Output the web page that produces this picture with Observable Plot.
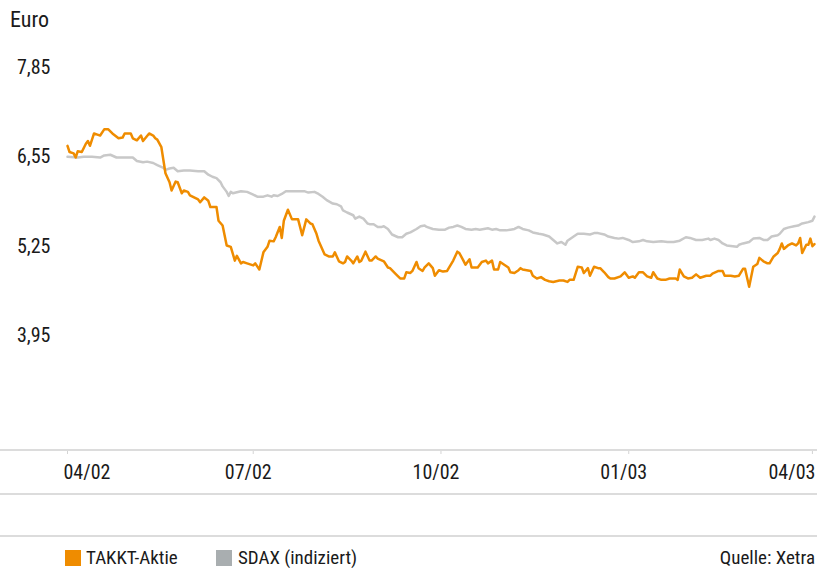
<!DOCTYPE html>
<html>
<head>
<meta charset="utf-8">
<script src="https://cdn.jsdelivr.net/npm/d3@7"></script>
<script src="https://cdn.jsdelivr.net/npm/@observablehq/plot@0.6"></script>
<style>
  body { margin: 0; background: #fff; }
  #wrap { position: relative; width: 817px; height: 568px; font-family: "Liberation Sans Narrow", "Roboto Condensed", "DejaVu Sans Condensed", "Liberation Sans", sans-serif; color: #1a1a1a; overflow: hidden; }
  .hline { position: absolute; left: 0; width: 817px; height: 2px; background: #dcdcdc; }
  .unit { position: absolute; left: 10px; top: 8px; font-size: 22px; line-height: 24px; }
  .legend { position: absolute; top: 547px; left: 0; width: 817px; height: 22px; font-size: 19px; line-height: 22px; }
  .legend span.sw { position: absolute; top: 3px; width: 16px; height: 16px; }
  .legend span.tx { position: absolute; top: 0; white-space: nowrap; }
</style>
</head>
<body>
<div id="wrap">
  <div id="chart"></div>
  <div class="unit">Euro</div>
  <div class="hline" style="top:449px"></div>
  <div class="hline" style="top:493px"></div>
  <div class="hline" style="top:535px"></div>
  <div class="legend" id="legend"></div>
</div>
<script>
// Y-axis tick values (Euro)
const yTicks = [3.95, 5.25, 6.55, 7.85];
// X-axis tick dates
const xTickDates = ["2002-04-01", "2002-07-01", "2002-10-01", "2003-01-01", "2003-04-01"];
// Legend / source labels
const seriesNames = ["TAKKT-Aktie", "SDAX (indiziert)"];
const sourceText = "Quelle: Xetra";

// TAKKT share price (Euro)
const takkt = [
  ["2002-04-01",6.71],["2002-04-02",6.62],["2002-04-04",6.60],["2002-04-05",6.54],["2002-04-06",6.63],
  ["2002-04-08",6.62],["2002-04-10",6.74],["2002-04-11",6.78],["2002-04-12",6.71],["2002-04-14",6.89],
  ["2002-04-16",6.87],["2002-04-17",6.86],["2002-04-19",6.95],["2002-04-21",6.95],["2002-04-23",6.89],
  ["2002-04-26",6.82],["2002-04-28",6.83],["2002-04-29",6.89],["2002-05-02",6.89],["2002-05-03",6.82],
  ["2002-05-05",6.79],["2002-05-07",6.86],["2002-05-08",6.78],["2002-05-11",6.89],["2002-05-13",6.86],
  ["2002-05-14",6.82],["2002-05-15",6.80],["2002-05-17",6.69],["2002-05-18",6.50],["2002-05-19",6.31],
  ["2002-05-21",6.18],["2002-05-22",6.06],["2002-05-24",6.19],["2002-05-25",6.18],["2002-05-27",6.02],
  ["2002-05-28",6.06],["2002-05-30",6.04],["2002-05-31",5.99],["2002-06-02",5.96],["2002-06-04",5.93],
  ["2002-06-05",5.89],["2002-06-07",5.96],["2002-06-09",5.91],["2002-06-10",5.82],["2002-06-13",5.82],
  ["2002-06-14",5.62],["2002-06-16",5.55],["2002-06-18",5.26],["2002-06-20",5.24],["2002-06-22",5.04],
  ["2002-06-23",5.11],["2002-06-25",5.00],["2002-06-26",5.02],["2002-06-28",5.00],["2002-07-01",4.97],
  ["2002-07-02",5.00],["2002-07-04",4.91],["2002-07-06",5.16],["2002-07-08",5.24],["2002-07-09",5.33],
  ["2002-07-11",5.32],["2002-07-12",5.38],["2002-07-14",5.53],["2002-07-15",5.37],["2002-07-16",5.62],
  ["2002-07-18",5.78],["2002-07-20",5.64],["2002-07-23",5.64],["2002-07-25",5.41],["2002-07-27",5.64],
  ["2002-07-29",5.58],["2002-07-30",5.57],["2002-08-01",5.43],["2002-08-02",5.33],["2002-08-05",5.13],
  ["2002-08-07",5.10],["2002-08-09",5.10],["2002-08-10",5.16],["2002-08-12",5.03],["2002-08-14",5.00],
  ["2002-08-15",5.02],["2002-08-16",5.10],["2002-08-18",5.04],["2002-08-19",5.00],["2002-08-21",5.10],
  ["2002-08-22",5.02],["2002-08-23",5.04],["2002-08-25",5.17],["2002-08-27",5.04],["2002-08-28",5.04],
  ["2002-08-30",5.10],["2002-08-31",5.07],["2002-09-03",5.03],["2002-09-05",4.94],["2002-09-06",4.93],
  ["2002-09-09",4.84],["2002-09-11",4.78],["2002-09-13",4.78],["2002-09-14",4.87],["2002-09-16",4.86],
  ["2002-09-17",4.89],["2002-09-19",5.02],["2002-09-20",4.93],["2002-09-22",4.89],["2002-09-23",4.94],
  ["2002-09-25",5.00],["2002-09-27",4.93],["2002-09-28",4.82],["2002-09-30",4.90],["2002-10-02",4.88],
  ["2002-10-04",4.89],["2002-10-07",5.04],["2002-10-09",5.17],["2002-10-10",5.15],["2002-10-12",5.04],
  ["2002-10-13",4.98],["2002-10-15",5.06],["2002-10-16",4.94],["2002-10-19",4.94],["2002-10-21",5.02],
  ["2002-10-23",5.04],["2002-10-24",5.00],["2002-10-26",5.04],["2002-10-27",4.91],["2002-10-29",4.91],
  ["2002-10-30",5.02],["2002-11-01",4.98],["2002-11-03",4.94],["2002-11-04",4.87],["2002-11-06",4.86],
  ["2002-11-08",4.90],["2002-11-09",4.93],["2002-11-10",4.91],["2002-11-12",4.90],["2002-11-14",4.89],
  ["2002-11-15",4.82],["2002-11-17",4.78],["2002-11-19",4.80],["2002-11-21",4.76],["2002-11-23",4.74],
  ["2002-11-25",4.73],["2002-11-28",4.75],["2002-11-30",4.75],["2002-12-02",4.73],["2002-12-03",4.76],
  ["2002-12-05",4.76],["2002-12-07",4.95],["2002-12-09",4.94],["2002-12-10",4.86],["2002-12-12",4.93],
  ["2002-12-13",4.82],["2002-12-15",4.95],["2002-12-17",4.93],["2002-12-18",4.93],["2002-12-20",4.87],
  ["2002-12-22",4.80],["2002-12-23",4.78],["2002-12-25",4.78],["2002-12-28",4.81],["2002-12-30",4.87],
  ["2003-01-01",4.79],["2003-01-03",4.81],["2003-01-04",4.79],["2003-01-06",4.87],["2003-01-08",4.87],
  ["2003-01-10",4.81],["2003-01-12",4.79],["2003-01-13",4.87],["2003-01-15",4.78],["2003-01-17",4.76],
  ["2003-01-19",4.76],["2003-01-21",4.78],["2003-01-24",4.78],["2003-01-25",4.76],["2003-01-26",4.91],
  ["2003-01-28",4.81],["2003-01-30",4.78],["2003-02-01",4.79],["2003-02-03",4.84],["2003-02-05",4.79],
  ["2003-02-08",4.82],["2003-02-10",4.82],["2003-02-11",4.85],["2003-02-14",4.89],["2003-02-16",4.89],
  ["2003-02-17",4.82],["2003-02-20",4.82],["2003-02-22",4.81],["2003-02-24",4.82],["2003-02-26",4.92],
  ["2003-02-27",4.92],["2003-03-01",4.66],["2003-03-03",4.95],["2003-03-05",4.99],["2003-03-06",5.08],
  ["2003-03-08",5.03],["2003-03-10",5.00],["2003-03-11",5.00],["2003-03-13",5.10],["2003-03-15",5.15],
  ["2003-03-16",5.21],["2003-03-17",5.29],["2003-03-18",5.21],["2003-03-20",5.26],["2003-03-22",5.29],
  ["2003-03-24",5.26],["2003-03-25",5.29],["2003-03-26",5.37],["2003-03-27",5.15],["2003-03-29",5.27],
  ["2003-03-30",5.27],["2003-03-31",5.36],["2003-04-01",5.25],["2003-04-02",5.28]
];

// SDAX, indexed to the TAKKT price (Euro)
const sdax = [
  ["2002-04-01",6.55],["2002-04-06",6.54],["2002-04-09",6.55],["2002-04-13",6.55],["2002-04-17",6.54],
  ["2002-04-19",6.57],["2002-04-22",6.58],["2002-04-25",6.54],["2002-04-28",6.54],["2002-05-01",6.54],
  ["2002-05-03",6.54],["2002-05-05",6.49],["2002-05-08",6.47],["2002-05-10",6.48],["2002-05-13",6.46],
  ["2002-05-15",6.43],["2002-05-18",6.39],["2002-05-19",6.36],["2002-05-21",6.38],["2002-05-23",6.39],
  ["2002-05-25",6.34],["2002-05-28",6.35],["2002-05-31",6.35],["2002-06-04",6.34],["2002-06-07",6.34],
  ["2002-06-09",6.29],["2002-06-11",6.26],["2002-06-13",6.24],["2002-06-15",6.18],["2002-06-16",6.12],
  ["2002-06-18",6.04],["2002-06-19",5.98],["2002-06-20",6.04],["2002-06-21",6.02],["2002-06-25",6.05],
  ["2002-06-28",6.04],["2002-07-01",6.00],["2002-07-03",5.97],["2002-07-06",5.97],["2002-07-08",5.99],
  ["2002-07-10",5.97],["2002-07-11",5.99],["2002-07-13",5.98],["2002-07-15",6.01],["2002-07-17",6.05],
  ["2002-07-21",6.05],["2002-07-26",6.05],["2002-07-28",6.03],["2002-07-31",6.04],["2002-08-02",6.01],
  ["2002-08-04",5.97],["2002-08-06",5.92],["2002-08-09",5.87],["2002-08-11",5.86],["2002-08-13",5.83],
  ["2002-08-14",5.77],["2002-08-16",5.74],["2002-08-19",5.70],["2002-08-20",5.65],["2002-08-22",5.68],
  ["2002-08-24",5.65],["2002-08-26",5.58],["2002-08-27",5.57],["2002-08-29",5.57],["2002-08-31",5.53],
  ["2002-09-02",5.53],["2002-09-03",5.54],["2002-09-05",5.50],["2002-09-07",5.42],["2002-09-10",5.38],
  ["2002-09-12",5.38],["2002-09-14",5.43],["2002-09-16",5.45],["2002-09-19",5.50],["2002-09-21",5.54],
  ["2002-09-23",5.55],["2002-09-24",5.53],["2002-09-27",5.50],["2002-09-30",5.49],["2002-10-03",5.49],
  ["2002-10-05",5.52],["2002-10-07",5.53],["2002-10-09",5.55],["2002-10-11",5.53],["2002-10-13",5.50],
  ["2002-10-16",5.49],["2002-10-18",5.50],["2002-10-20",5.49],["2002-10-22",5.50],["2002-10-24",5.51],
  ["2002-10-26",5.49],["2002-10-28",5.50],["2002-10-30",5.48],["2002-11-02",5.48],["2002-11-04",5.49],
  ["2002-11-06",5.50],["2002-11-08",5.53],["2002-11-10",5.50],["2002-11-13",5.48],["2002-11-15",5.45],
  ["2002-11-18",5.43],["2002-11-20",5.42],["2002-11-23",5.39],["2002-11-25",5.34],["2002-11-27",5.29],
  ["2002-11-29",5.31],["2002-12-01",5.27],["2002-12-02",5.33],["2002-12-05",5.39],["2002-12-07",5.43],
  ["2002-12-10",5.43],["2002-12-13",5.42],["2002-12-15",5.44],["2002-12-17",5.44],["2002-12-20",5.42],
  ["2002-12-22",5.39],["2002-12-25",5.37],["2002-12-27",5.36],["2002-12-29",5.37],["2003-01-01",5.34],
  ["2003-01-03",5.31],["2003-01-06",5.32],["2003-01-08",5.34],["2003-01-10",5.32],["2003-01-13",5.31],
  ["2003-01-17",5.32],["2003-01-20",5.31],["2003-01-23",5.31],["2003-01-26",5.33],["2003-01-29",5.38],
  ["2003-01-31",5.37],["2003-02-03",5.34],["2003-02-06",5.34],["2003-02-09",5.36],["2003-02-10",5.34],
  ["2003-02-12",5.36],["2003-02-14",5.34],["2003-02-16",5.29],["2003-02-18",5.26],["2003-02-21",5.25],
  ["2003-02-23",5.24],["2003-02-24",5.27],["2003-02-26",5.29],["2003-03-01",5.31],["2003-03-03",5.36],
  ["2003-03-06",5.37],["2003-03-08",5.34],["2003-03-10",5.34],["2003-03-12",5.39],["2003-03-15",5.41],
  ["2003-03-16",5.43],["2003-03-18",5.50],["2003-03-20",5.52],["2003-03-23",5.54],["2003-03-25",5.55],
  ["2003-03-27",5.58],["2003-03-30",5.60],["2003-04-01",5.62],["2003-04-02",5.68]
];

const colors = { takkt: "#ef8c00", sdax: "#c8c8c8", sdaxLegend: "#a9aeb0", rule: "#d4d4d4" };
const fontFamily = '"Liberation Sans Narrow", "Roboto Condensed", "DejaVu Sans Condensed", "Liberation Sans", sans-serif';

const parse = d3.utcParse("%Y-%m-%d");
const fmtTick = d3.utcFormat("%m/%y");
const tickDates = xTickDates.map(parse);

const chart = Plot.plot({
  width: 817,
  height: 496,
  marginLeft: 67,
  marginRight: 1,
  marginTop: 30,
  marginBottom: 46,
  style: { fontFamily, fontSize: "20px", color: "#1a1a1a", background: "transparent" },
  x: { type: "utc", domain: [parse("2002-04-01"), parse("2003-04-03")] },
  y: { domain: [2.277, 8.388] },
  marks: [
    Plot.axisY({ ticks: yTicks, tickSize: 0, tickPadding: 17, tickFormat: d => d.toFixed(2).replace(".", ","), label: null }),
    Plot.axisX({ ticks: tickDates, tickSize: 4, tickFormat: () => "", stroke: colors.rule, label: null }),
    Plot.text(tickDates.slice(0, 1), { x: d => d, text: d => fmtTick(d), frameAnchor: "bottom", dy: 22, dx: -4, lineAnchor: "middle", textAnchor: "start", fill: "#1a1a1a" }),
    Plot.text(tickDates.slice(1, -1), { x: d => d, text: d => fmtTick(d), frameAnchor: "bottom", dy: 22, dx: -5, lineAnchor: "middle", fill: "#1a1a1a" }),
    Plot.text(tickDates.slice(-1), { x: d => d, text: d => fmtTick(d), frameAnchor: "bottom", dy: 22, dx: 3, lineAnchor: "middle", textAnchor: "end", fill: "#1a1a1a" }),
    Plot.line(sdax, { x: d => parse(d[0]), y: d => d[1], stroke: colors.sdax, strokeWidth: 2.5 }),
    Plot.line(takkt, { x: d => parse(d[0]), y: d => d[1], stroke: colors.takkt, strokeWidth: 2.5 })
  ]
});
chart.style.position = "absolute";
chart.style.left = "0";
chart.style.top = "0";
document.getElementById("chart").appendChild(chart);

// Legend
const legend = document.getElementById("legend");
const items = [
  { name: seriesNames[0], color: colors.takkt, sx: 65, tx: 86 },
  { name: seriesNames[1], color: colors.sdaxLegend, sx: 216, tx: 238 }
];
for (const it of items) {
  const sw = document.createElement("span");
  sw.className = "sw"; sw.style.left = it.sx + "px"; sw.style.background = it.color;
  const tx = document.createElement("span");
  tx.className = "tx"; tx.style.left = it.tx + "px"; tx.textContent = it.name;
  legend.append(sw, tx);
}
const src = document.createElement("span");
src.className = "tx"; src.style.right = "2px"; src.textContent = sourceText;
legend.append(src);
</script>
</body>
</html>
